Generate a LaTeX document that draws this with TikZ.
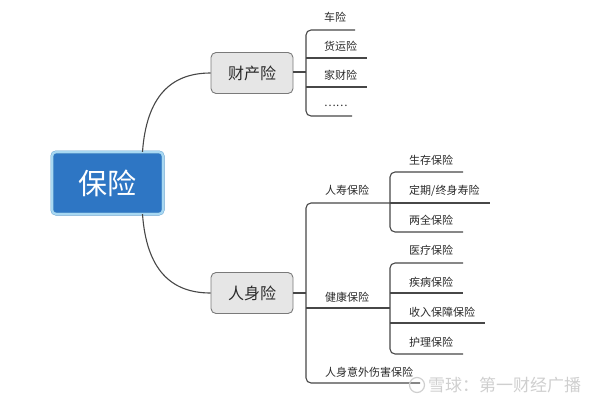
\documentclass[tikz,border=0pt]{standalone}
\usepackage{fontspec}
\newfontfamily\cjk{Noto Sans CJK SC}
\definecolor{mainblue}{HTML}{2E76C4}
\definecolor{ringblue}{HTML}{A8D8F2}
\definecolor{ringedge}{HTML}{5E9CCB}
\definecolor{boxgray}{HTML}{E6E6E6}
\definecolor{boxedge}{HTML}{7A7A7A}
\definecolor{linecol}{HTML}{474747}
\definecolor{txt}{HTML}{2A2A2A}
\definecolor{wm}{HTML}{CFCFCF}
\begin{document}
\begin{tikzpicture}[x=1pt,y=-1pt,
  mainbox/.style={font=\cjk\fontsize{29}{32}\selectfont, text=white, fill=mainblue,
    draw=ringedge, double=ringblue, double distance=2.2pt, rounded corners=4pt,
    minimum width=111, minimum height=62, inner sep=0pt},
  subbox/.style={font=\cjk\fontsize{16}{19}\selectfont, text=txt, fill=boxgray,
    draw=boxedge, line width=0.9pt, rounded corners=5pt,
    minimum width=82, minimum height=41, inner sep=0pt},
  leaf/.style={font=\cjk\fontsize{11}{13}\selectfont, text=txt, anchor=west, inner sep=0pt},
  conn/.style={draw=linecol, line width=1.1pt},
  brk/.style={conn, rounded corners=5pt}]
\useasboundingbox (0,0) rectangle (600,400);

% boxes
\node[mainbox] (root) at (107.5,183) {保险};
\node[subbox] (cc) at (252,73) {财产险};
\node[subbox] (rs) at (252,293) {人身险};

% main curves
\draw[conn] ([xshift=35pt]root.north) .. controls +(4,-55) and +(-40,0) .. (cc.west);
\draw[conn] ([xshift=35pt]root.south) .. controls +(4,55) and +(-40,0) .. (rs.west);

% ---- 财产险 branch
\coordinate (pj) at (306,72);
\coordinate (p1) at (355,30);
\coordinate (p2) at (367,58);
\coordinate (p3) at (367,87);
\coordinate (p4) at (352,116);
\draw[conn] (cc.east |- pj) -- (pj);
\draw[brk] (p1) -- (p1 -| pj) -- (p4 -| pj) -- (p4);
\draw[conn] (p2 -| pj) -- (p2);
\draw[conn] (p3 -| pj) -- (p3);
\node[leaf] (l1) at (324,17) {车险};
\node[leaf] (l2) at (324,46) {货运险};
\node[leaf] (l3) at (324,75) {家财险};
\node[leaf] (l4) at (324,106) {……};

% ---- 人身险 branch
\coordinate (rj) at (306,293);
\coordinate (q1) at (390,203);   % 人寿保险 line meets sub-bracket
\coordinate (q2) at (390,308);   % 健康保险 line meets sub-bracket
\coordinate (q3) at (420,383);   % 人身意外伤害保险 line end
\draw[conn] (rs.east |- rj) -- (rj);
\draw[brk] (q1) -- (q1 -| rj) -- (q3 -| rj) -- (q3);
\draw[conn] (q2 -| rj) -- (q2);
\node[leaf] (m1) at (325,190) {人寿保险};
\node[leaf] (m2) at (325,297) {健康保险};
\node[leaf] (m3) at (325,372) {人身意外伤害保险};

% 人寿保险 sub-branch
\coordinate (s1) at (463,172);
\coordinate (s2) at (490,203);
\coordinate (s3) at (463,232);
\draw[brk] (s1) -- (s1 -| q1) -- (s3 -| q1) -- (s3);
\draw[conn] (q1) -- (s2);
\node[leaf] (n1) at (409,160) {生存保险};
\node[leaf] (n2) at (409,191) {定期/终身寿险};
\node[leaf] (n3) at (409,220) {两全保险};

% 健康保险 sub-branch
\coordinate (h1) at (463,263);
\coordinate (h2) at (463,293);
\coordinate (h3) at (485,323);
\coordinate (h4) at (463,354);
\draw[brk] (h1) -- (h1 -| q2) -- (h4 -| q2) -- (h4);
\draw[conn] (h2 -| q2) -- (h2);
\draw[conn] (h3 -| q2) -- (h3);
\node[leaf] (k1) at (409,250) {医疗保险};
\node[leaf] (k2) at (409,282) {疾病保险};
\node[leaf] (k3) at (409,312) {收入保障保险};
\node[leaf] (k4) at (409,342) {护理保险};

% watermark
\node[draw=wm, line width=1.2pt, circle, minimum size=15pt, inner sep=0pt] (wlogo) at (417,385) {};
\node[font=\cjk\fontsize{17}{19}\selectfont, text=wm, anchor=west, inner sep=0pt] (wtext) at (428,385) {雪球：第一财经广播};
\end{tikzpicture}
\end{document}
